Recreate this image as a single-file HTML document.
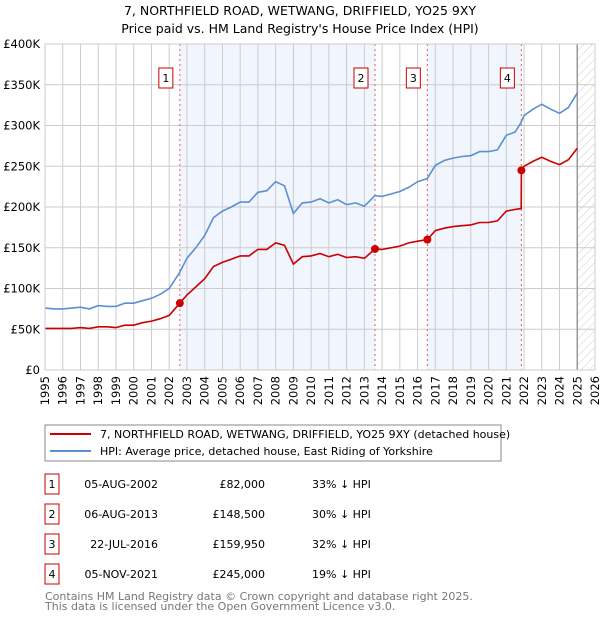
<!DOCTYPE html>
<html><head><meta charset="utf-8"><style>
body{margin:0;background:#fff;font-family:"DejaVu Sans","Liberation Sans",sans-serif;}
svg text{font-family:"DejaVu Sans","Liberation Sans",sans-serif;}
</style></head><body>
<svg id="chart" width="600" height="620" viewBox="0 0 600 620" xmlns="http://www.w3.org/2000/svg">
<defs><pattern id="hatch" width="6" height="6" patternUnits="userSpaceOnUse" patternTransform="rotate(45)"><line x1="0" y1="0" x2="0" y2="6" stroke="#ccc" stroke-width="1"/></pattern></defs>
<text x="300" y="15" text-anchor="middle" font-size="12.5">7, NORTHFIELD ROAD, WETWANG, DRIFFIELD, YO25 9XY</text>
<text x="300" y="33" text-anchor="middle" font-size="12.5">Price paid vs. HM Land Registry's House Price Index (HPI)</text>
<g id="plot"></g>
<rect x="45" y="425" width="456" height="36" fill="#fff" stroke="#888"/>
<line x1="50" y1="434" x2="91" y2="434" stroke="#cc0000" stroke-width="2"/>
<text x="100" y="438" font-size="11">7, NORTHFIELD ROAD, WETWANG, DRIFFIELD, YO25 9XY (detached house)</text>
<line x1="50" y1="451" x2="91" y2="451" stroke="#5b8fd4" stroke-width="2"/>
<text x="100" y="455" font-size="11">HPI: Average price, detached house, East Riding of Yorkshire</text>
<g id="table" font-size="11"></g>
<text x="45" y="600" font-size="11" fill="#777">Contains HM Land Registry data © Crown copyright and database right 2025.</text>
<text x="45" y="610" font-size="11" fill="#777">This data is licensed under the Open Government Licence v3.0.</text>
</svg>
<script>
const dates=[1995,1995.5,1996,1996.5,1997,1997.5,1998,1998.5,1999,1999.5,2000,2000.5,2001,2001.5,2002,2002.6,2003,2003.5,2004,2004.5,2005,2005.5,2006,2006.5,2007,2007.5,2008,2008.5,2009,2009.5,2010,2010.5,2011,2011.5,2012,2012.5,2013,2013.6,2014,2014.5,2015,2015.5,2016,2016.55,2017,2017.5,2018,2018.5,2019,2019.5,2020,2020.5,2021,2021.5,2021.84,2021.85,2022,2022.5,2023,2023.5,2024,2024.5,2025];
const hpiValues=[76,75,75,76,77,75,79,78,78,82,82,85,88,93,100,120,137,150,165,187,195,200,206,206,218,220,231,226,192,205,206,210,205,209,203,205,201,214,213,216,219,224,231,235,251,257,260,262,263,268,268,270,288,292,304,305,312,320,326,320,315,322,340];
const priceValues=[51,51,51,51,52,51,53,53,52,55,55,58,60,63,67,82,92,102,112,127,132,136,140,140,148,148,156,153,130,139,140,143,139,142,138,139,137,148.5,148,150,152,156,158,159.95,171,174,176,177,178,181,181,183,195,197,198,245,250,256,261,256,252,258,272];
const saleDates=[2002.6,2013.6,2016.55,2021.85];
const salePrices=[82,148.5,159.95,245];
const saleLabels=["1","2","3","4"];
const saleDateText=["05-AUG-2002","06-AUG-2013","22-JUL-2016","05-NOV-2021"];
const salePriceText=["£82,000","£148,500","£159,950","£245,000"];
const saleHpiText=["33% ↓ HPI","30% ↓ HPI","32% ↓ HPI","19% ↓ HPI"];
const yTicks=[0,50,100,150,200,250,300,350,400];
const yTickLabels=["£0","£50K","£100K","£150K","£200K","£250K","£300K","£350K","£400K"];
const xYears=[1995,1996,1997,1998,1999,2000,2001,2002,2003,2004,2005,2006,2007,2008,2009,2010,2011,2012,2013,2014,2015,2016,2017,2018,2019,2020,2021,2022,2023,2024,2025,2026];

const NS="http://www.w3.org/2000/svg";
const L=45,R=595,T=44,B=370;
const xS=d=>L+(d-1995)*(R-L)/31;
const yS=v=>B-v*(B-T)/400;
const plot=document.getElementById('plot');
function mk(tag,attrs,parent){const e=document.createElementNS(NS,tag);for(const k in attrs)e.setAttribute(k,attrs[k]);(parent||plot).appendChild(e);return e;}
let e;
e=mk('rect',{x:L,y:T,width:R-L,height:B-T,fill:'#fff'});


// shaded ranges
for(let i=0;i<saleDates.length;i+=2){
 e=mk('rect',{x:xS(saleDates[i]),y:T,width:xS(saleDates[i+1])-xS(saleDates[i]),height:B-T,fill:'#eef3fc',opacity:0.8});
 
 
}
e=mk('rect',{x:xS(2025),y:T,width:R-xS(2025),height:B-T,fill:'url(#hatch)'});


xYears.forEach(y=>{
 e=mk('line',{x1:xS(y),x2:xS(y),y1:T,y2:B,stroke:'#ccc','stroke-width':1});
 
 
 e=mk('text',{x:0,y:0,'font-size':11.5,'text-anchor':'end',transform:`translate(${xS(y)+4},${B+6}) rotate(-90)`});
 e.textContent=y;
 
 
});
yTicks.forEach((v,i)=>{
 e=mk('line',{x1:L,x2:R,y1:yS(v),y2:yS(v),stroke:'#ccc','stroke-width':1});
 
 
 e=mk('text',{x:L-5,y:yS(v)+4,'font-size':11.5,'text-anchor':'end'});
 e.textContent=yTickLabels[i];
 
 
});
e=mk('line',{x1:xS(2025),x2:xS(2025),y1:T,y2:B,stroke:'#999','stroke-width':1.5});


saleDates.forEach((d,i)=>{
 e=mk('line',{x1:xS(d),x2:xS(d),y1:T,y2:B,stroke:'#e06060','stroke-width':1,'stroke-dasharray':'2,3'});
 
 
 e=mk('rect',{x:xS(d)-21,y:68,width:14,height:20,fill:'#fff',stroke:'#cc0000'});
 
 
 e=mk('text',{x:xS(d)-14,y:82,'font-size':11,'text-anchor':'middle'});
 e.textContent=saleLabels[i];
 
 
});
const path=vals=>vals.map((v,i)=>(i?'L':'M')+xS(dates[i]).toFixed(1)+','+yS(v).toFixed(1)).join('');
e=mk('path',{d:path(hpiValues),fill:'none',stroke:'#5b8fd4','stroke-width':1.6});


e=mk('path',{d:path(priceValues),fill:'none',stroke:'#cc0000','stroke-width':1.6});


saleDates.forEach((d,i)=>{
 e=mk('circle',{cx:xS(d),cy:yS(salePrices[i]),r:4,fill:'#cc0000'});
 
 
});
e=mk('rect',{x:L,y:T,width:R-L,height:B-T,fill:'none',stroke:'#ccc'});


const tbl=document.getElementById('table');
saleDates.forEach((d,i)=>{
 const cy=484+i*30;
 e=mk('rect',{x:45,y:cy-10,width:14,height:20,fill:'none',stroke:'#cc0000'},tbl);
 
 
 e=mk('text',{x:52,y:cy+4,'text-anchor':'middle'},tbl);
 e.textContent=saleLabels[i];
 
 
 e=mk('text',{x:158,y:cy+4,'text-anchor':'end'},tbl);
 e.textContent=saleDateText[i];
 
 
 e=mk('text',{x:265,y:cy+4,'text-anchor':'end'},tbl);
 e.textContent=salePriceText[i];
 
 
 e=mk('text',{x:312,y:cy+4},tbl);
 e.textContent=saleHpiText[i];
 
 
});
</script>
</body></html>
